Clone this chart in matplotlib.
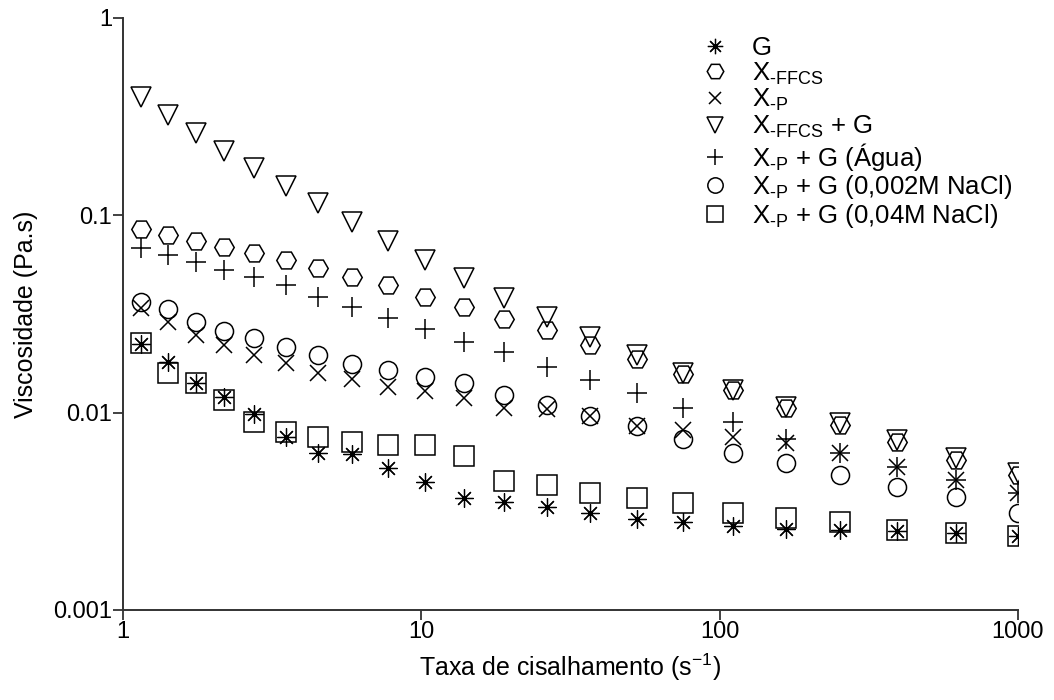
import matplotlib
matplotlib.use("Agg")
import matplotlib.pyplot as plt

plt.rcParams["font.family"] = ["Liberation Sans", "DejaVu Sans"]
plt.rcParams["mathtext.fontset"] = "custom"
plt.rcParams["mathtext.rm"] = "Liberation Sans"
plt.rcParams["mathtext.it"] = "Liberation Sans:italic"
plt.rcParams["mathtext.bf"] = "Liberation Sans:bold"
plt.rcParams["mathtext.default"] = "regular"

# shear rate (1/s)
shear = [1.15, 1.42, 1.76, 2.18, 2.75, 3.52, 4.51, 5.86, 7.73, 10.3, 13.9,
         18.9, 26.4, 36.8, 52.9, 75.4, 111, 167, 253, 393, 620, 1000]

# viscosity (Pa.s)
g = [0.0222, 0.0181, 0.0141, 0.0120, 0.00981, 0.00756, 0.00627, 0.00615,
     0.00523, 0.00445, 0.00368, 0.00353, 0.00333, 0.00310, 0.00289, 0.00279,
     0.00267, 0.00257, 0.00254, 0.00252, 0.00246, 0.00237]
x_ffcs = [0.0849, 0.0795, 0.0741, 0.0689, 0.0642, 0.0594, 0.0539, 0.0489,
          0.0444, 0.0387, 0.0342, 0.0297, 0.0262, 0.0220, 0.0186, 0.0157,
          0.0130, 0.0105, 0.00866, 0.00713, 0.00575, 0.00483]
x_p = [0.0338, 0.0289, 0.0247, 0.0220, 0.0196, 0.0178, 0.0159, 0.0148,
       0.0135, 0.0128, 0.0118, 0.0106, 0.0104, 0.00966, 0.00856, 0.00817,
       0.00756, 0.00700, 0.00623, 0.00529, 0.00456, 0.00390]
x_ffcs_g = [0.399, 0.322, 0.260, 0.212, 0.173, 0.141, 0.115, 0.0928,
            0.0744, 0.0594, 0.0480, 0.0380, 0.0306, 0.0243, 0.0196, 0.0158,
            0.0130, 0.0107, 0.00883, 0.00727, 0.00587, 0.00493]
x_p_g_agua = [0.0685, 0.0630, 0.0578, 0.0528, 0.0485, 0.0443, 0.0387,
              0.0344, 0.0301, 0.0265, 0.0229, 0.0202, 0.0170, 0.0147,
              0.0126, 0.0105, 0.00900, 0.00736, 0.00623, 0.00529, 0.00456,
              0.00390]
x_p_g_002 = [0.0365, 0.0334, 0.0287, 0.0260, 0.0238, 0.0216, 0.0196, 0.0176,
             0.0164, 0.0152, 0.0141, 0.0123, 0.0109, 0.00966, 0.00856,
             0.00733, 0.00623, 0.00554, 0.00483, 0.00422, 0.00373, 0.00310]
x_p_g_04 = [0.0225, 0.0158, 0.0141, 0.0116, 0.00900, 0.00801, 0.00756,
            0.00713, 0.00686, 0.00686, 0.00603, 0.00452, 0.00430, 0.00390,
            0.00368, 0.00347, 0.00310, 0.00293, 0.00279, 0.00254, 0.00246,
            0.00237]

labels = ["G",
          r"X$_{\text{-FFCS}}$",
          r"X$_{\text{-P}}$",
          r"X$_{\text{-FFCS}}$ + G",
          r"X$_{\text{-P}}$ + G (Água)",
          r"X$_{\text{-P}}$ + G (0,002M NaCl)",
          r"X$_{\text{-P}}$ + G (0,04M NaCl)"]

fig = plt.figure(figsize=(10.54, 7), dpi=100)
ax = fig.add_axes([0.1167, 0.1286, 0.8491, 0.8457])

series = [g, x_ffcs, x_p, x_ffcs_g, x_p_g_agua, x_p_g_002, x_p_g_04]
markers = [(8, 2, 0), "H", "x", "v", "+", "o", "s"]
sizes = [13, 14, 11, 14, 14, 13, 14]
widths = [0.9, 1.1, 1.1, 1.1, 1.1, 1.1, 1.1]
for vals, m, ms, mw, lab in zip(series, markers, sizes, widths, labels):
    ax.plot(shear, vals, linestyle="none", marker=m, markersize=ms,
            markerfacecolor="none", markeredgecolor="black",
            markeredgewidth=mw, label=lab)

ax.set_xscale("log")
ax.set_yscale("log")
ax.set_xlim(1, 1000)
ax.set_ylim(0.001, 1)
ax.set_xticks([1, 10, 100, 1000], ["1", "10", "100", "1000"])
ax.set_yticks([0.001, 0.01, 0.1, 1], ["0.001", "0.01", "0.1", "1"])
ax.minorticks_off()

for side in ["top", "right"]:
    ax.spines[side].set_visible(False)
for side in ["left", "bottom"]:
    ax.spines[side].set_linewidth(1.4)
    ax.spines[side].set_color("#333333")
ax.tick_params(length=7, width=1.3, color="#333333", labelsize=17, pad=1)

ax.set_xlabel("Taxa de cisalhamento (s$^{-1}$)", fontsize=18)
ax.set_ylabel("Viscosidade (Pa.s)", fontsize=18)
ax.xaxis.set_label_coords(0.5, -0.07)
ax.yaxis.set_label_coords(-0.095, 0.5)

ax.legend(loc="upper left", bbox_to_anchor=(0.633, 0.987), frameon=False,
          fontsize=18.5, markerscale=0.85, handlelength=1.2,
          handletextpad=0.84, labelspacing=0.02, borderaxespad=0)

fig.savefig("out.png", dpi=100)
